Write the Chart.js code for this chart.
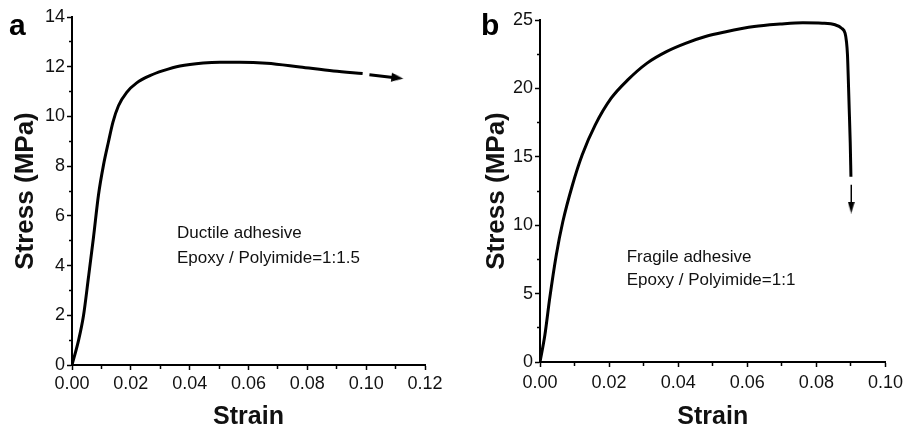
<!DOCTYPE html>
<html>
<head>
<meta charset="utf-8">
<script src="https://cdn.jsdelivr.net/npm/chart.js@4.4.1/dist/chart.umd.min.js"></script>
<style>
    html, body { margin: 0; padding: 0; background: #fff; }
    .panel { position: absolute; top: 0; width: 454px; height: 437px; }
    #panel-a { left: 0; }
    #panel-b { left: 454px; }
</style>
</head>
<body>
<div class="panel" id="panel-a"><canvas id="chart-a" width="454" height="437"></canvas></div>
<div class="panel" id="panel-b"><canvas id="chart-b" width="454" height="437"></canvas></div>
<script>
// panel a: ductile adhesive, Epoxy / Polyimide = 1:1.5
const strainA = [0, 0.0022, 0.0039, 0.0056, 0.0073, 0.009, 0.0107, 0.0124, 0.0139, 0.0158, 0.0186,
    0.022, 0.0265, 0.031, 0.0367, 0.0446, 0.0503, 0.057, 0.0662, 0.0775, 0.0889, 0.0988];
const stressA = [0, 0.98, 1.98, 3.53, 5.13, 6.84, 8.04, 8.98, 9.76, 10.43, 10.97,
    11.35, 11.64, 11.84, 12.03, 12.15, 12.18, 12.18, 12.14, 11.99, 11.83, 11.73];
const dashStrainA = [0.1011, 0.1106];
const dashStressA = [11.68, 11.55];

// panel b: fragile adhesive, Epoxy / Polyimide = 1:1
const strainB = [0, 0.0014, 0.0028, 0.0047, 0.0066, 0.0094, 0.0122, 0.016, 0.0206, 0.0254, 0.031,
    0.0366, 0.0423, 0.0479, 0.0535, 0.062, 0.0695, 0.0761, 0.0817, 0.0854, 0.0873, 0.0883,
    0.0887, 0.089, 0.0892, 0.0895, 0.0898, 0.09];
const stressB = [0, 1.95, 4.64, 7.81, 10.25, 12.94, 15.13, 17.33, 19.28, 20.62, 21.85,
    22.69, 23.31, 23.79, 24.12, 24.52, 24.7, 24.8, 24.77, 24.65, 24.4, 24.04,
    23.43, 22.45, 21.0, 18.5, 16.0, 13.54];
const dashStrainB = [0.0901, 0.0901];
const dashStressB = [12.96, 11.29];

const xTicksA = ['0.00', '0.02', '0.04', '0.06', '0.08', '0.10', '0.12'];
const yTicksA = ['0', '2', '4', '6', '8', '10', '12', '14'];
const xTicksB = ['0.00', '0.02', '0.04', '0.06', '0.08', '0.10'];
const yTicksB = ['0', '5', '10', '15', '20', '25'];

const sans = "'Liberation Sans', Arial, sans-serif";

function toPoints(xs, ys) {
    return xs.map((x, i) => ({ x: x, y: ys[i] }));
}

function arrowHead(len, wid) {
    const c = document.createElement('canvas');
    c.width = wid;
    c.height = len;
    const g = c.getContext('2d');
    g.fillStyle = '#000';
    g.beginPath();
    g.moveTo(wid / 2, 0);
    g.lineTo(wid, len);
    g.lineTo(0, len);
    g.closePath();
    g.fill();
    return c;
}

// draws the panel letter and the note text
const notesPlugin = {
    id: 'notes',
    afterDraw(chart, args, opts) {
        const ctx = chart.ctx;
        ctx.save();
        ctx.fillStyle = '#000';
        ctx.textBaseline = 'alphabetic';
        ctx.font = 'bold 30px ' + sans;
        ctx.fillText(opts.letter, opts.letterX, opts.letterY);
        ctx.fillStyle = '#111';
        ctx.font = '17px ' + sans;
        const x = chart.scales.x.getPixelForValue(opts.at[0]);
        const y = chart.scales.y.getPixelForValue(opts.at[1]);
        opts.lines.forEach((t, i) => ctx.fillText(t, x, y + i * opts.lineGap));
        ctx.restore();
    }
};

function createStrainChart(ctx, cfg) {
    const labelsX = cfg.xLabels;
    const labelsY = cfg.yLabels;
    return new Chart(ctx, {
        type: 'scatter',
        data: {
            datasets: [{
                data: toPoints(cfg.strain, cfg.stress),
                showLine: true,
                borderColor: '#000',
                borderWidth: 3,
                pointRadius: 0,
                cubicInterpolationMode: 'monotone'
            }, {
                data: toPoints(cfg.dashStrain, cfg.dashStress),
                showLine: true,
                borderColor: '#000',
                borderWidth: cfg.dashWidth,
                pointRadius: 0
            }, {
                data: [{ x: cfg.dashStrain[1], y: cfg.dashStress[1] }],
                showLine: false,
                pointStyle: arrowHead(12, cfg.headWidth),
                pointRotation: cfg.headRotation,
                pointRadius: 6
            }]
        },
        options: {
            responsive: false,
            animation: false,
            layout: { padding: cfg.padding },
            plugins: {
                legend: { display: false },
                tooltip: { enabled: false },
                notes: cfg.notes
            },
            scales: {
                x: {
                    type: 'linear',
                    min: 0,
                    max: cfg.xMax,
                    afterFit: s => { s.height = cfg.xHeight; },
                    border: { display: true, color: '#000', width: 2 },
                    grid: {
                        drawOnChartArea: false,
                        tickLength: 5,
                        tickWidth: 1.5,
                        tickColor: '#000',
                        tickBorderDash: c => (c.index % 2 ? [3, 20] : [])
                    },
                    ticks: {
                        stepSize: 0.01,
                        autoSkip: false,
                        maxRotation: 0,
                        padding: cfg.xPad,
                        color: '#111',
                        font: { family: sans, size: 18 },
                        callback: (v, i) => (i % 2 ? '' : labelsX[i / 2])
                    },
                    title: {
                        display: true,
                        text: 'Strain',
                        color: '#111',
                        font: { family: sans, size: 25, weight: 'bold' },
                        padding: { top: 0, bottom: 5 }
                    }
                },
                y: {
                    type: 'linear',
                    min: 0,
                    max: cfg.yMax,
                    afterFit: s => { s.width = cfg.yWidth; },
                    border: { display: true, color: '#000', width: 2 },
                    grid: {
                        drawOnChartArea: false,
                        tickLength: 5,
                        tickWidth: 1.5,
                        tickColor: '#000',
                        tickBorderDash: c => (c.index % 2 ? [0, 2, 3, 20] : [])
                    },
                    ticks: {
                        stepSize: cfg.yStep,
                        autoSkip: false,
                        padding: 2,
                        color: '#111',
                        font: { family: sans, size: 18 },
                        callback: (v, i) => (i % 2 ? '' : labelsY[i / 2])
                    },
                    title: {
                        display: true,
                        text: 'Stress (MPa)',
                        color: '#111',
                        font: { family: sans, size: 26, weight: 'bold' },
                        padding: { top: cfg.yTitlePad, bottom: 0 }
                    }
                }
            }
        },
        plugins: [notesPlugin]
    });
}

document.addEventListener('DOMContentLoaded', function () {
    createStrainChart(document.getElementById('chart-a').getContext('2d'), {
        strain: strainA, stress: stressA,
        dashStrain: dashStrainA, dashStress: dashStressA,
        dashWidth: 3, headWidth: 9, headRotation: 97,
        xMax: 0.12, yMax: 14, yStep: 1,
        xLabels: xTicksA, yLabels: yTicksA,
        padding: { left: 0, top: 17, right: 29, bottom: 0 },
        xHeight: 72, yWidth: 72, xPad: 3, yTitlePad: 10,
        notes: {
            letter: 'a', letterX: 9, letterY: 35,
            at: [0.0357, 5.12], lineGap: 25,
            lines: ['Ductile adhesive', 'Epoxy / Polyimide=1:1.5']
        }
    });

    createStrainChart(document.getElementById('chart-b').getContext('2d'), {
        strain: strainB, stress: stressB,
        dashStrain: dashStrainB, dashStress: dashStressB,
        dashWidth: 1.5, headWidth: 7, headRotation: 180,
        xMax: 0.10, yMax: 25, yStep: 2.5,
        xLabels: xTicksB, yLabels: yTicksB,
        padding: { left: 0, top: 20, right: 16, bottom: 0 },
        xHeight: 75, yWidth: 86, xPad: 5, yTitlePad: 27,
        notes: {
            letter: 'b', letterX: 27, letterY: 35,
            at: [0.0251, 7.3], lineGap: 23,
            lines: ['Fragile adhesive', 'Epoxy / Polyimide=1:1']
        }
    });
});
</script>
</body>
</html>
